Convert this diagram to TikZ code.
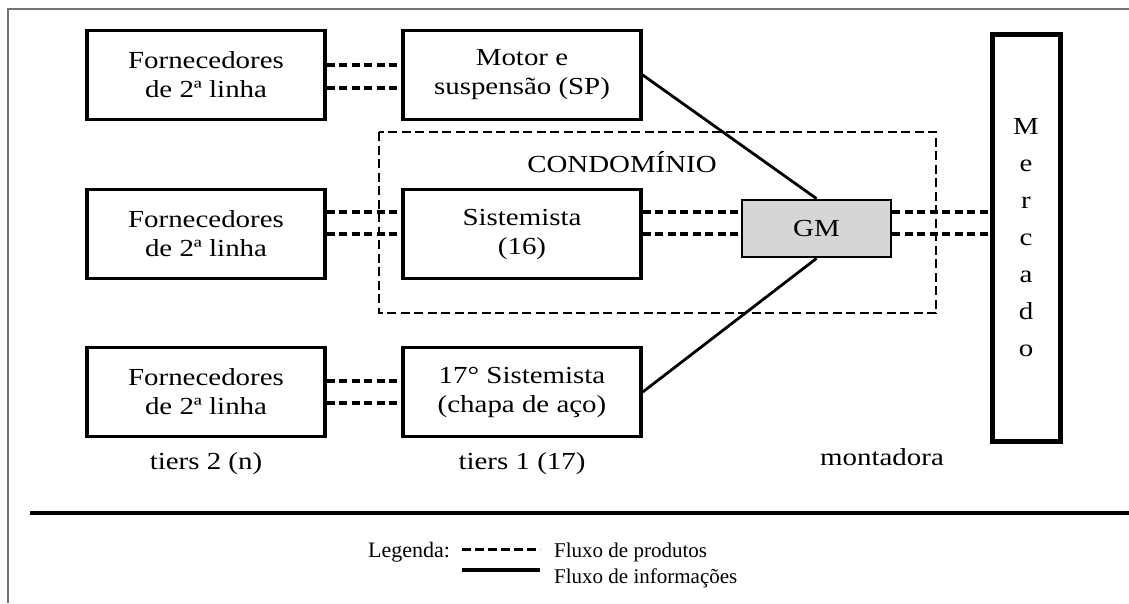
\documentclass[tikz,border=0pt]{standalone}
\usepackage{fontspec}
\setmainfont{Liberation Serif}
\newfontfamily\boxfont[FakeStretch=1.18]{Liberation Serif}
\usepackage{tikz}
\usetikzlibrary{positioning}
\tikzset{boxStyle/.style={rectangle, draw=black, line width=3.4pt, minimum width=238pt, minimum height=89pt, inner sep=0pt, align=center, font=\boxfont\fontsize{24.5}{29}\selectfont}}
\tikzset{gmStyle/.style={rectangle, draw=black, fill=black!16, line width=2.8pt, minimum width=149pt, minimum height=57pt, inner sep=0pt, font=\boxfont\fontsize{24.5}{29}\selectfont}}
\tikzset{txtStyle/.style={inner sep=0pt, font=\boxfont\fontsize{24.5}{29}\selectfont}}
\tikzset{prod/.style={line width=3.3pt, dash pattern=on 8pt off 4.5pt}, info/.style={line width=2.8pt}}

\begin{document}
\begin{tikzpicture}[x=1pt, y=-1pt]
  \useasboundingbox (0,0) rectangle (1129,603);
  % frame
  \draw [black!55, line width=1.5pt] (8,603) -- (8,9) -- (1129,9);
  \draw [line width=4.5pt] (30,513) -- (1129,513);

  % nodes
  \node at (206,75) [boxStyle] (forn1) {Fornecedores\\de 2ª linha};
  \node at (522,75) [boxStyle] (motor) {Motor e\\suspensão (SP)};
  \node at (206,234) [boxStyle] (forn2) {Fornecedores\\de 2ª linha};
  \node at (522,234) [boxStyle] (sist) {Sistemista\\(16)};
  \node at (206,392) [boxStyle] (forn3) {Fornecedores\\de 2ª linha};
  \node at (522,392) [boxStyle] (sist17) {17° Sistemista\\(chapa de aço)};
  \node at (816.5,228.5) [gmStyle] (gm) {GM};
  \node at (1026,238) [boxStyle, line width=5pt, minimum width=68pt, minimum height=407pt, font=\boxfont\fontsize{24.5}{37}\selectfont] (merc) {M\\e\\r\\c\\a\\d\\o};

  % condominio
  \draw [line width=2.8pt, dash pattern=on 9pt off 4.5pt] (379,132) rectangle (936,313);
  \node at (622,162) [txtStyle] (cond) {CONDOMÍNIO};

  % tiers
  \node [txtStyle] (tier2) [below=14pt of forn3] {tiers 2 (n)};
  \node [txtStyle] (tier1) [below=14pt of sist17] {tiers 1 (17)};
  \node at (882,457) [txtStyle] (mont) {montadora};

  % products
  \draw [prod] ([yshift=10]forn1.east) -- ([yshift=10]motor.west);
  \draw [prod] ([yshift=-13]forn1.east) -- ([yshift=-13]motor.west);
  \draw [prod] ([yshift=22]forn2.east) -- ([yshift=22]sist.west);
  \draw [prod] (forn2.east) -- (sist.west);
  \draw [prod] ([yshift=22]sist.east) -- ([yshift=16.5]gm.west);
  \draw [prod] (sist.east) -- ([yshift=-5.5]gm.west);
  \draw [prod] ([yshift=16.5]gm.east) -- ([yshift=26]merc.west);
  \draw [prod] ([yshift=-5.5]gm.east) -- ([yshift=4]merc.west);
  \draw [prod] ([yshift=11]forn3.east) -- ([yshift=11]sist17.west);
  \draw [prod] ([yshift=-11]forn3.east) -- ([yshift=-11]sist17.west);

  % information
  \draw [info] (motor.east) -- (gm.north);
  \draw [info] (sist17.east) -- (gm.south);

  % legend
  \node at (368,552) [anchor=west, inner sep=0pt, font=\fontsize{22}{26}\selectfont] (leg) {Legenda:};
  \coordinate (dashA) at (462,549);
  \coordinate (dashB) at (540,549);
  \coordinate (lineA) at (462,570);
  \coordinate (lineB) at (540,570);
  \draw [line width=3pt, dash pattern=on 9pt off 4pt] (dashA) -- (dashB);
  \draw [line width=3.5pt] (lineA) -- (lineB);
  \node at (554,552) [anchor=west, inner sep=0pt, font=\fontsize{21}{26}\selectfont] (legProd) {Fluxo de produtos};
  \node at (554,578) [anchor=west, inner sep=0pt, font=\fontsize{21}{26}\selectfont] (legInfo) {Fluxo de informações};
\end{tikzpicture}
\end{document}
